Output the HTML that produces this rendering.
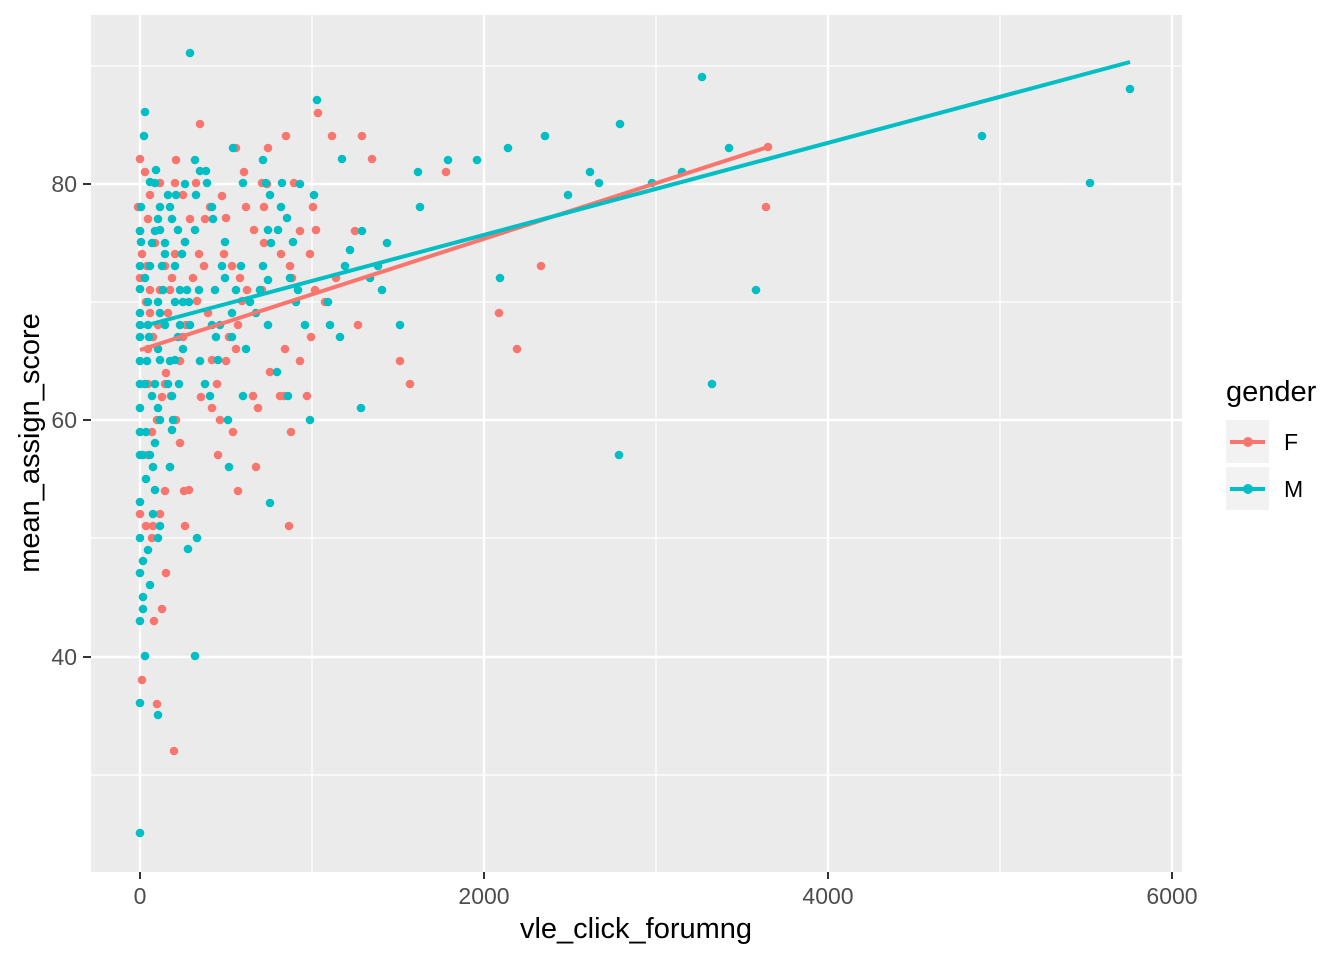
<!DOCTYPE html>
<html><head><meta charset="utf-8"><style>body{margin:0;background:#fff}svg{display:block;font-family:"Liberation Sans",sans-serif}</style></head><body>
<svg width="1344" height="960" xmlns="http://www.w3.org/2000/svg">
<rect x="91" y="15" width="1091" height="857" fill="#ebebeb"/>
<g stroke="#fff" stroke-width="1.2">
<line x1="91" x2="1182" y1="66" y2="66"/><line x1="91" x2="1182" y1="302" y2="302"/><line x1="91" x2="1182" y1="538" y2="538"/><line x1="91" x2="1182" y1="775" y2="775"/>
<line y1="15" y2="872" x1="312" x2="312"/><line y1="15" y2="872" x1="656" x2="656"/><line y1="15" y2="872" x1="1000" x2="1000"/>
</g>
<g stroke="#fff" stroke-width="2.4">
<line x1="91" x2="1182" y1="184" y2="184"/><line x1="91" x2="1182" y1="420" y2="420"/><line x1="91" x2="1182" y1="657" y2="657"/>
<line y1="15" y2="872" x1="140" x2="140"/><line y1="15" y2="872" x1="484" x2="484"/><line y1="15" y2="872" x1="828" x2="828"/><line y1="15" y2="872" x1="1172" x2="1172"/>
</g>
<g id="pts"></g>
<line x1="140" y1="350" x2="768" y2="147" stroke="#f8766d" stroke-width="4"/>
<line x1="140" y1="327" x2="1130" y2="62" stroke="#00bfc4" stroke-width="4"/>
<g fill="#4d4d4d" font-size="23" text-anchor="end">
<text x="77" y="192">80</text><text x="77" y="428">60</text><text x="77" y="665">40</text></g>
<g stroke="#333" stroke-width="2"><line x1="83" x2="91" y1="184" y2="184"/><line x1="83" x2="91" y1="420" y2="420"/><line x1="83" x2="91" y1="657" y2="657"/>
<line x1="140" x2="140" y1="872" y2="879"/><line x1="484" x2="484" y1="872" y2="879"/><line x1="828" x2="828" y1="872" y2="879"/><line x1="1172" x2="1172" y1="872" y2="879"/></g>
<g fill="#4d4d4d" font-size="23" text-anchor="middle">
<text x="140" y="904">0</text><text x="484" y="904">2000</text><text x="828" y="904">4000</text><text x="1172" y="904">6000</text></g>
<text x="636" y="938" font-size="29" text-anchor="middle">vle_click_forumng</text>
<text transform="translate(39,443) rotate(-90)" font-size="29" text-anchor="middle">mean_assign_score</text>
<text x="1226" y="401" font-size="29">gender</text>
<rect x="1226" y="420" width="43" height="43" fill="#f2f2f2"/><rect x="1226" y="467" width="43" height="43" fill="#f2f2f2"/>
<line x1="1230" x2="1265" y1="442" y2="442" stroke="#f8766d" stroke-width="4"/><circle cx="1248" cy="442" r="5" fill="#f8766d"/>
<line x1="1230" x2="1265" y1="489" y2="489" stroke="#00bfc4" stroke-width="4"/><circle cx="1248" cy="489" r="5" fill="#00bfc4"/>
<text x="1284" y="450" font-size="23">F</text><text x="1284" y="497" font-size="23">M</text>
</svg>
<script>
var F=[140,159,145,172,140,278,140,514,142,680,157,704,152,538,154,621,162,609,166,573,174,751,200,124,176,160,196,183,210,207,236,148,262,183,268,148,318,113,332,136,362,136,372,159,286,136,294,183,226,218,264,207,267,184,254,230,292,278,290,266,281,254,262,290,247,290,242,301,238,325,229,337,226,361,217,384,212,408,220,420,233,432,238,491,201,397,212,360,208,313,197,301,193,278,199,254,313,207,316,230,310,254,311,337,307,396,291,432,236,349,358,325,355,231,400,361,410,384,499,313,517,349,541,266,446,172,768,147,766,207,289,526,284,396,253,396,189,490,185,526,180,443,176,420,171,396,166,373,180,361,186,325,170,290,165,266,155,243,148,219,150,195,160,183,175,183,183,195,190,219,185,242,175,254,172,278,160,290,168,313,183,337,170,467,165,491,160,514,153,526,148,455,152,432,157,420,162,397,165,384,148,349,153,337,158,325,146,302,150,290,147,266,142,254,140,231,138,207,285,349,270,372,258,408,224,254,246,207,280,396,256,467,184,491,300,361,315,290,325,302,336,278,222,196,204,266,244,172,218,455,300,231,264,243,150,313,146,526,148,384,205,219,240,278,232,266];
var M=[190,53,145,112,144,136,140,833,140,703,145,656,158,715,195,656,188,549,197,538,229,467,270,503,310,420,361,408,330,325,387,243,418,172,342,159,314,195,317,100,420,207,448,160,477,160,500,278,508,148,545,136,568,195,590,172,599,183,619,455,620,124,652,183,682,172,702,77,729,148,756,290,712,384,982,136,1090,183,1130,89,281,207,293,242,298,290,305,325,288,396,277,372,268,230,243,183,241,266,263,266,271,243,232,337,225,242,213,219,212,207,206,171,207,183,196,195,195,230,199,290,187,290,189,302,183,349,179,384,173,420,165,254,160,207,155,183,150,182,141,207,140,231,141,242,140,266,140,289,140,313,140,325,140,337,140,361,140,384,140,408,140,432,140,455,140,502,140,538,140,573,140,621,143,561,143,597,143,609,146,479,148,550,150,585,143,455,146,432,145,384,147,361,149,337,148,325,148,302,145,278,150,266,152,243,155,231,158,219,160,230,165,243,162,266,163,290,158,302,160,313,165,325,158,349,160,360,155,384,152,396,158,408,160,420,155,443,150,455,153,467,155,490,153,514,160,526,158,538,170,467,172,396,175,360,178,337,180,325,175,302,180,290,175,266,182,254,185,242,178,230,172,219,170,207,168,195,176,195,185,184,195,160,200,171,170,361,168,384,172,430,183,302,190,325,200,361,205,384,210,396,228,420,243,396,218,360,220,325,215,290,222,266,225,278,232,313,236,290,250,302,260,290,268,280,290,278,296,302,268,325,256,313,340,337,345,266,350,250,362,231,370,278,378,266,382,290,400,325,233,148,263,160,270,195,282,183,300,184,212,325,266,183,278,230,287,218,328,302,246,349,216,337,156,170];
var g=document.getElementById('pts'),s='';
function add(a,c){for(var i=0;i<a.length;i+=2)s+='<circle cx="'+a[i]+'" cy="'+a[i+1]+'" r="4.3" fill="'+c+'"/>';}
add(F,'#f8766d');add(M,'#00bfc4');g.innerHTML=s;
</script>
</body></html>
